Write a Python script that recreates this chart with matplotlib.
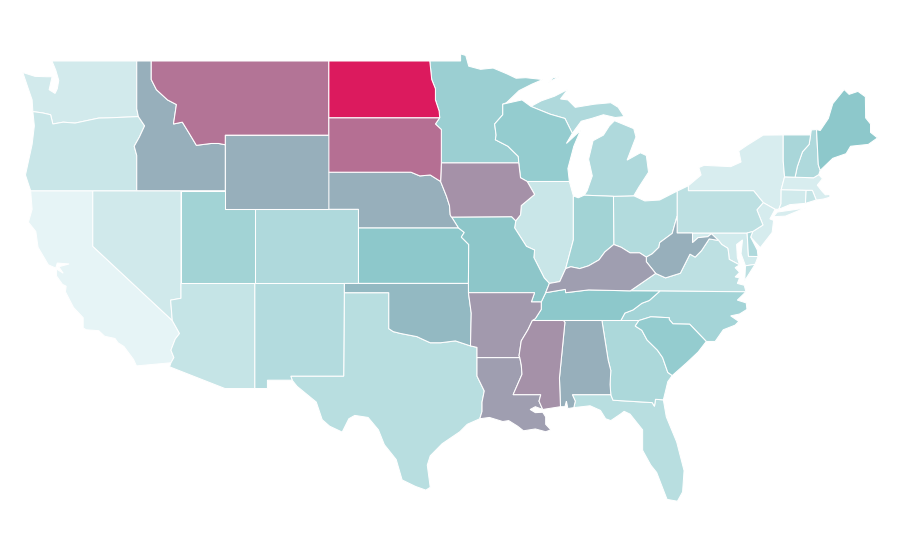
import matplotlib
matplotlib.use('Agg')
import matplotlib.pyplot as plt
from matplotlib.colors import LinearSegmentedColormap

# ---------------------------
# DATA
# ---------------------------
STATE_CODES = ['CA', 'NY', 'MA', 'NJ', 'WA', 'MD', 'CT', 'NV', 'OR', 'IL', 'RI', 'AZ', 'PA', 'VA', 'TX', 'FL',
               'NM', 'OH', 'CO', 'MI', 'NH', 'DE', 'GA', 'VT', 'NC', 'UT', 'IN', 'MN', 'WI', 'SC', 'KS', 'TN',
               'ME', 'MO', 'OK', 'AL', 'WY', 'ID', 'NE', 'WV', 'KY', 'LA', 'AR', 'IA', 'MS', 'MT', 'SD', 'ND']
STATE_VALUES = [0.3, 4.7, 4.7, 5.7, 7, 7.3, 7.3, 7.7, 10, 10, 11, 11.3, 14, 14, 15.3, 15.3,
                17, 17.3, 18.7, 18.7, 18.7, 18.7, 19.3, 20.7, 22, 23, 23, 25, 27.5, 27.7, 30, 30,
                30, 31, 36, 40, 40, 40, 40, 40, 47, 47, 49, 52, 52, 64, 66, 100]

# state outlines, (lon, lat)
OUTLINES = {
    'WA': [[(-122.76, 49), (-117.03, 49), (-117.03, 46.42), (-116.92, 46), (-119, 45.93), (-119.6, 45.92), (-121.2, 45.65),
            (-122, 45.7), (-122.7, 45.6), (-122.85, 46.1), (-123.4, 46.2), (-124.05, 46.27), (-124.1, 46.9), (-124.4, 47.6),
            (-124.73, 48.38), (-123.9, 48.17), (-123.1, 48.15), (-122.75, 48.15), (-122.95, 47.45), (-122.55, 47.25),
            (-122.4, 47.5), (-122.3, 47.95), (-122.5, 48.5), (-122.76, 49)]],
    'OR': [[(-124.2, 42), (-124.55, 42.85), (-124.1, 44.5), (-123.95, 45.5), (-124.05, 46.27), (-123.4, 46.2), (-122.85, 46.1),
            (-122.7, 45.6), (-122, 45.7), (-121.2, 45.65), (-119.6, 45.92), (-119, 45.93), (-116.92, 46), (-116.5, 45.5),
            (-116.85, 44.9), (-117.2, 44.4), (-117.03, 43.9), (-117.03, 42)]],
    'CA': [[(-124.2, 42), (-120, 42), (-120, 39), (-114.63, 35), (-114.14, 34.3), (-114.43, 34), (-114.72, 33.4),
            (-114.52, 33), (-114.72, 32.72), (-117.05, 32.55), (-117.25, 32.9), (-117.9, 33.6), (-118.3, 33.8), (-118.5, 34.03),
            (-119.2, 34.15), (-119.6, 34.45), (-120.45, 34.5), (-120.65, 34.6), (-120.65, 35.15), (-121.3, 35.7), (-121.85, 36.55),
            (-121.8, 36.85), (-122.05, 36.95), (-122.45, 37.4), (-122.45, 37.78), (-122, 37.55), (-122.3, 37.9), (-121.6, 38.05),
            (-122.4, 38.1), (-122.5, 37.83), (-123, 38), (-123.7, 38.95), (-123.85, 39.8), (-124.35, 40.3), (-124.1, 41), (-124.2, 42)]],
    'NV': [[(-120, 42), (-114.04, 42), (-114.04, 36.2), (-114.74, 36.1), (-114.63, 35), (-120, 39)]],
    'ID': [[(-117.03, 49), (-116.05, 49), (-116.05, 48), (-115.7, 47.45), (-114.95, 46.9), (-114.35, 46.65), (-114.55, 45.6),
            (-113.95, 45.7), (-113.45, 45.05), (-113, 44.45), (-112, 44.55), (-111.5, 44.55), (-111.05, 44.48), (-111.05, 42),
            (-117.03, 42), (-117.03, 43.9), (-117.2, 44.4), (-116.85, 44.9), (-116.5, 45.5), (-116.92, 46), (-117.03, 46.42)]],
    'MT': [[(-116.05, 49), (-104.05, 49), (-104.05, 45), (-111.05, 45), (-111.05, 44.48), (-111.5, 44.55), (-112, 44.55),
            (-113, 44.45), (-113.45, 45.05), (-113.95, 45.7), (-114.55, 45.6), (-114.35, 46.65), (-114.95, 46.9), (-115.7, 47.45),
            (-116.05, 48)]],
    'WY': [[(-111.05, 45), (-104.05, 45), (-104.05, 41), (-111.05, 41)]],
    'UT': [[(-114.04, 42), (-111.05, 42), (-111.05, 41), (-109.05, 41), (-109.05, 37), (-114.04, 37)]],
    'AZ': [[(-114.04, 37), (-109.05, 37), (-109.05, 31.33), (-111.07, 31.33), (-114.81, 32.5), (-114.72, 32.72), (-114.52, 33),
            (-114.72, 33.4), (-114.43, 34), (-114.14, 34.3), (-114.63, 35), (-114.74, 36.1), (-114.04, 36.2)]],
    'CO': [[(-109.05, 41), (-102.05, 41), (-102.05, 37), (-109.05, 37)]],
    'NM': [[(-109.05, 37), (-103, 37), (-103.05, 32), (-106.62, 32), (-106.53, 31.78), (-108.2, 31.78), (-108.2, 31.33), (-109.05, 31.33)]],
    'ND': [[(-104.05, 49), (-97.23, 49), (-97.1, 48), (-96.85, 47.5), (-96.85, 46.9), (-96.6, 46.3), (-96.56, 45.94), (-104.05, 45.94)]],
    'SD': [[(-104.05, 45.94), (-96.56, 45.94), (-96.85, 45.6), (-96.45, 45.3), (-96.45, 43.5), (-96.5, 42.5), (-97.2, 42.85),
            (-97.9, 42.8), (-98.5, 43), (-104.05, 43)]],
    'NE': [[(-104.05, 43), (-98.5, 43), (-97.9, 42.8), (-97.2, 42.85), (-96.5, 42.5), (-96.1, 41.7), (-95.9, 41.2), (-95.85, 40.7),
            (-95.3, 40), (-102.05, 40), (-102.05, 41), (-104.05, 41)]],
    'KS': [[(-102.05, 40), (-95.3, 40), (-94.9, 39.75), (-95.1, 39.5), (-94.6, 39.1), (-94.62, 37), (-102.05, 37)]],
    'OK': [[(-103, 37), (-94.62, 37), (-94.62, 36.5), (-94.43, 35.4), (-94.48, 33.63), (-95.5, 33.9), (-96.5, 33.8), (-97.2, 33.8),
            (-97.7, 33.98), (-98.1, 34.13), (-99.2, 34.3), (-99.7, 34.4), (-100, 34.56), (-100, 36.5), (-103, 36.5)]],
    'TX': [[(-103, 36.5), (-100, 36.5), (-100, 34.56), (-99.7, 34.4), (-99.2, 34.3), (-98.1, 34.13), (-97.7, 33.98), (-97.2, 33.8),
            (-96.5, 33.8), (-95.5, 33.9), (-94.48, 33.63), (-94.04, 33.55), (-94.04, 32), (-93.55, 31.2), (-93.7, 30.6), (-93.7, 30.1),
            (-93.85, 29.7), (-94.7, 29.4), (-95.2, 29), (-96.4, 28.35), (-97.2, 27.7), (-97.4, 27.2), (-97.2, 26), (-97.5, 25.85),
            (-98.2, 26.05), (-99.1, 26.4), (-99.5, 27.5), (-100.3, 28.3), (-100.7, 29.1), (-101.4, 29.77), (-102.3, 29.88), (-102.7, 29.7),
            (-103.15, 28.98), (-104, 29.3), (-104.5, 29.65), (-104.9, 30.6), (-106.2, 31.45), (-106.53, 31.78), (-106.62, 32), (-103.05, 32)]],
    'MN': [[(-97.23, 49), (-95.15, 49), (-95.15, 49.38), (-94.8, 49.3), (-94.6, 48.72), (-93.8, 48.55), (-92.95, 48.62), (-92, 48.3),
            (-91.4, 48.07), (-90.75, 48.1), (-89.6, 48), (-90.33, 47.75), (-91.2, 47.4), (-92.05, 46.75), (-92.3, 46.67), (-92.3, 46.1), (-92.85, 45.6),
            (-92.75, 45), (-92.8, 44.75), (-91.95, 44.4), (-91.25, 43.85), (-91.22, 43.5), (-96.45, 43.5), (-96.45, 45.3), (-96.85, 45.6),
            (-96.56, 45.94), (-96.6, 46.3), (-96.85, 46.9), (-96.85, 47.5), (-97.1, 48)]],
    'IA': [[(-96.45, 43.5), (-91.22, 43.5), (-91.1, 42.7), (-90.65, 42.5), (-90.15, 41.8), (-91.05, 41.2), (-91.1, 40.7), (-91.42, 40.38),
            (-91.7, 40.6), (-95.77, 40.58), (-95.85, 40.7), (-95.9, 41.2), (-96.1, 41.7), (-96.5, 42.5)]],
    'MO': [[(-95.77, 40.58), (-91.7, 40.6), (-91.42, 40.38), (-91.5, 40), (-90.7, 39), (-90.15, 38.8), (-90.2, 38.4), (-89.5, 37.3),
            (-89.15, 37), (-89.4, 36.5), (-89.7, 36), (-90.37, 36), (-90.15, 36.5), (-94.62, 36.5), (-94.62, 37), (-94.6, 39.1),
            (-95.1, 39.5), (-94.9, 39.75), (-95.3, 40), (-95.85, 40.7)]],
    'AR': [[(-94.62, 36.5), (-90.15, 36.5), (-90.37, 36), (-89.7, 36), (-89.7, 35.6), (-90.1, 35.1), (-90.3, 35), (-90.6, 34.5),
            (-91.05, 33.9), (-91.2, 33.1), (-91.15, 33), (-94.04, 33), (-94.04, 33.55), (-94.48, 33.63), (-94.43, 35.4)]],
    'LA': [[(-94.04, 33), (-91.15, 33), (-91.05, 32.6), (-91, 32.1), (-91.6, 31), (-89.73, 31), (-89.85, 30.65), (-89.6, 30.2),
            (-90.1, 30.35), (-90.45, 30.2), (-90.1, 30.03), (-89.6, 30.05), (-89.4, 29.8), (-89.4, 29.4), (-89.05, 29.1), (-89.4, 29),
            (-90.1, 29.15), (-90.9, 29.05), (-91.3, 29.3), (-91.9, 29.6), (-92.3, 29.55), (-93.2, 29.77), (-93.85, 29.7), (-93.7, 30.1),
            (-93.7, 30.6), (-93.55, 31.2), (-94.04, 32)]],
    'MS': [[(-90.3, 35), (-88.2, 35), (-88.1, 34.9), (-88.47, 31.9), (-88.4, 30.35), (-89.6, 30.2), (-89.85, 30.65), (-89.73, 31),
            (-91.6, 31), (-91, 32.1), (-91.05, 32.6), (-91.15, 33), (-91.2, 33.1), (-91.05, 33.9), (-90.6, 34.5)]],
    'AL': [[(-88.2, 35), (-85.6, 35), (-85.18, 32.87), (-85, 32.3), (-85.05, 31.55), (-85, 31), (-87.6, 31), (-87.4, 30.65), (-87.5, 30.3),
            (-87.9, 30.25), (-88, 30.65), (-88.1, 30.35), (-88.4, 30.35), (-88.47, 31.9), (-88.1, 34.9)]],
    'GA': [[(-85.6, 35), (-83.1, 35), (-83.35, 34.7), (-82.9, 34.47), (-82.55, 33.95), (-81.85, 33.4), (-81.5, 33), (-81.15, 32.2),
            (-80.85, 32.03), (-81.15, 31.7), (-81.3, 31.2), (-81.45, 30.72), (-81.98, 30.75), (-82.05, 30.37), (-82.2, 30.57), (-84.85, 30.7),
            (-85, 31), (-85.05, 31.55), (-85, 32.3), (-85.18, 32.87)]],
    'FL': [[(-87.6, 31), (-85, 31), (-84.85, 30.7), (-82.2, 30.57), (-82.05, 30.37), (-81.98, 30.75), (-81.45, 30.72), (-81.25, 29.8),
            (-80.55, 28.45), (-80.05, 26.9), (-80.15, 25.75), (-80.5, 25.25), (-81.2, 25.35), (-81.9, 26.8), (-82.3, 27.2), (-82.85, 28),
            (-82.85, 29.1), (-83.7, 29.95), (-84.1, 30.1), (-84.35, 29.95), (-85, 29.6), (-85.35, 29.7), (-85.7, 30.15),
            (-86.4, 30.4), (-87.5, 30.3), (-87.4, 30.65)]],
    'SC': [[(-83.1, 35), (-82.3, 35.2), (-81.05, 35.15), (-81.05, 35.05), (-80.8, 34.82), (-79.67, 34.8), (-78.55, 33.87), (-79.1, 33.3),
            (-79.9, 32.7), (-80.85, 32.03), (-81.15, 32.2), (-81.5, 33), (-81.85, 33.4), (-82.55, 33.95), (-82.9, 34.47), (-83.35, 34.7)]],
    'NC': [[(-81.68, 36.59), (-75.87, 36.55), (-76.45, 36.1), (-75.85, 35.95), (-75.8, 35.6), (-76.3, 35.35), (-76.9, 35.25), (-76.35, 34.95),
            (-76.6, 34.75), (-77.4, 34.5), (-77.95, 33.87), (-78.55, 33.87), (-79.67, 34.8),
            (-80.8, 34.82), (-81.05, 35.05), (-81.05, 35.15), (-82.3, 35.2), (-83.1, 35), (-84.32, 35), (-84.05, 35.4), (-83.5, 35.57),
            (-82.9, 35.93), (-82.4, 36.08)]],
    'TN': [[(-90.3, 35), (-88.2, 35), (-85.6, 35), (-84.32, 35), (-84.05, 35.4), (-83.5, 35.57), (-82.9, 35.93), (-82.4, 36.08), (-81.68, 36.59),
            (-83.68, 36.6), (-86.5, 36.65), (-88.05, 36.5), (-88.07, 36.68), (-89.4, 36.5), (-89.7, 36), (-89.7, 35.6), (-90.1, 35.1)]],
    'KY': [[(-89.4, 36.5), (-88.07, 36.68), (-88.05, 36.5), (-86.5, 36.65), (-83.68, 36.6), (-81.97, 37.54), (-82.6, 38.17), (-82.6, 38.42),
            (-83.05, 38.65), (-83.7, 38.65), (-84.3, 38.95), (-84.8, 39.1), (-85.4, 38.7), (-85.8, 38.27), (-86.5, 37.95), (-87.1, 37.8),
            (-87.7, 37.9), (-88.05, 37.8), (-88.45, 37.1), (-89.15, 37)]],
    'VA': [[(-83.68, 36.6), (-81.68, 36.59), (-75.87, 36.55), (-75.98, 36.9), (-76.45, 37), (-76.3, 37.3), (-76.6, 37.35), (-76.3, 37.6), (-76.6, 37.85),
            (-76.3, 38), (-77, 38.3), (-77.05, 38.7),
            (-77.1, 38.9), (-77.5, 39.1), (-77.72, 39.32), (-78.35, 39.4), (-78.87, 38.77), (-79.3, 38.42), (-79.65, 38.58), (-80.3, 37.55),
            (-81.3, 37.3), (-81.97, 37.54)],
           [(-75.9, 37.95), (-75.25, 38.03), (-75.95, 37.15)]],
    'WV': [[(-81.97, 37.54), (-81.3, 37.3), (-80.3, 37.55), (-79.65, 38.58), (-79.3, 38.42), (-78.87, 38.77), (-78.35, 39.4), (-77.72, 39.32),
            (-78.2, 39.68), (-78.45, 39.52), (-79.1, 39.47), (-79.48, 39.2), (-79.48, 39.72), (-80.52, 39.72), (-80.52, 40.64), (-80.85, 39.7),
            (-81.7, 39.2), (-81.75, 38.95), (-82.2, 38.6), (-82.6, 38.42), (-82.6, 38.17)]],
    'MD': [[(-79.48, 39.72), (-75.79, 39.72), (-75.7, 38.46), (-75.05, 38.45), (-75.25, 38.03), (-75.9, 37.95), (-76.2, 38.6), (-76.1, 39.35),
            (-76.5, 39.1), (-76.45, 38.4), (-76.3, 38), (-77, 38.3), (-77.05, 38.7), (-77.1, 38.9), (-77.5, 39.1), (-77.72, 39.32), (-78.2, 39.68),
            (-78.45, 39.52), (-79.1, 39.47), (-79.48, 39.2)]],
    'DE': [[(-75.79, 39.72), (-75.41, 39.8), (-75.55, 39.5), (-75.1, 38.8), (-75.05, 38.45), (-75.7, 38.46)]],
    'PA': [[(-80.52, 41.98), (-79.76, 42.27), (-79.76, 42), (-75.35, 42), (-74.7, 41.36), (-75.13, 40.97), (-74.72, 40.15), (-75.41, 39.8),
            (-75.79, 39.72), (-80.52, 39.72)]],
    'NJ': [[(-75.13, 40.97), (-74.7, 41.36), (-73.9, 41), (-74.25, 40.48), (-74, 40.4), (-74.1, 39.75), (-74.9, 38.93), (-75.55, 39.5),
            (-75.41, 39.8), (-74.72, 40.15)]],
    'NY': [[(-79.76, 42), (-75.35, 42), (-74.7, 41.36), (-73.9, 41), (-73.65, 41), (-73.5, 41.3), (-73.49, 42.05), (-73.26, 42.75), (-73.35, 43.6),
            (-73.35, 45.01), (-74.7, 45), (-75.8, 44.45), (-76.35, 44.15), (-76.2, 43.55), (-76.9, 43.3), (-78.7, 43.37), (-79.05, 43.25),
            (-78.9, 42.85), (-79.76, 42.27)],
           [(-74.02, 40.6), (-73.75, 40.85), (-72.6, 40.98), (-71.87, 41.07), (-73.2, 40.63)]],
    'CT': [[(-73.5, 41.3), (-73.49, 42.05), (-71.8, 42.02), (-71.85, 41.32), (-72.9, 41.25), (-73.65, 41)]],
    'RI': [[(-71.8, 42.02), (-71.38, 42.02), (-71.12, 41.5), (-71.85, 41.32)]],
    'MA': [[(-73.49, 42.05), (-73.26, 42.75), (-72.55, 42.73), (-71.3, 42.7), (-70.95, 42.87), (-70.7, 42.65), (-71.05, 42.3), (-70.7, 41.95),
            (-70.5, 41.78), (-70.2, 41.8), (-70.2, 41.65), (-70.65, 41.55), (-71.12, 41.5), (-71.38, 42.02), (-71.8, 42.02)]],
    'VT': [[(-73.35, 45.01), (-71.5, 45.01), (-71.6, 44.5), (-72.05, 44.1), (-72.4, 43.3), (-72.55, 42.73), (-73.26, 42.75), (-73.35, 43.6)]],
    'NH': [[(-71.5, 45.01), (-71.45, 45.28), (-71.1, 45.3), (-70.98, 43.4), (-70.85, 43.1), (-70.95, 42.87), (-71.3, 42.7), (-72.55, 42.73), (-72.4, 43.3),
            (-72.05, 44.1), (-71.6, 44.5)]],
    'ME': [[(-71.1, 45.3), (-70.85, 45.25), (-70.3, 45.9), (-70, 46.7), (-69.23, 47.46), (-68.9, 47.2), (-68.3, 47.36), (-67.8, 47.07),
            (-67.78, 45.93), (-67.45, 45.6), (-67.45, 45.15), (-66.98, 44.85), (-67.6, 44.5), (-68.8, 44.4), (-69.1, 44), (-70, 43.75),
            (-70.85, 43.1), (-70.98, 43.4)]],
    'OH': [[(-84.82, 41.7), (-83.45, 41.73), (-82.7, 41.45), (-81.7, 41.5), (-80.52, 41.98), (-80.52, 40.64), (-80.85, 39.7), (-81.7, 39.2),
            (-81.75, 38.95), (-82.2, 38.6), (-82.6, 38.42), (-83.05, 38.65), (-83.7, 38.65), (-84.3, 38.95), (-84.8, 39.1)]],
    'IN': [[(-87.53, 41.72), (-87.2, 41.62), (-86.8, 41.76), (-84.82, 41.7), (-84.8, 39.1), (-85.4, 38.7), (-85.8, 38.27), (-86.5, 37.95),
            (-87.1, 37.8), (-87.7, 37.9), (-88.05, 37.8), (-87.53, 39.35)]],
    'IL': [[(-90.65, 42.5), (-87.8, 42.5), (-87.53, 41.72), (-87.53, 39.35), (-88.05, 37.8), (-88.45, 37.1), (-89.15, 37), (-89.5, 37.3),
            (-90.2, 38.4), (-90.15, 38.8), (-90.7, 39), (-91.5, 40), (-91.42, 40.38), (-91.1, 40.7), (-91.05, 41.2), (-90.15, 41.8)]],
    'WI': [[(-92.3, 46.67), (-91, 46.9), (-90.4, 46.55), (-89.1, 46.13), (-88.1, 45.9), (-87.6, 45.1), (-88, 44.55), (-87.05, 45.25), (-87.5, 44.4),
            (-87.9, 43.2), (-87.8, 42.5), (-90.65, 42.5), (-91.1, 42.7), (-91.22, 43.5), (-91.25, 43.85), (-91.95, 44.4), (-92.8, 44.75), (-92.75, 45),
            (-92.85, 45.6), (-92.3, 46.1)]],
    'MI': [[(-86.8, 41.76), (-84.82, 41.7), (-83.45, 41.73), (-83.1, 42.2), (-82.45, 43), (-82.6, 43.9), (-83, 44.05), (-83.9, 43.65), (-83.3, 44.9),
            (-83.45, 45.35), (-84.75, 45.78), (-85.1, 45.5), (-85.5, 45), (-86.2, 44.7), (-86.5, 43.7), (-86.25, 42.8), (-86.6, 42)],
           [(-90.4, 46.55), (-89.1, 46.13), (-88.1, 45.9), (-87.6, 45.1), (-87, 45.75), (-86.3, 45.9), (-85.5, 46.1), (-84.7, 45.95), (-84.1, 46),
            (-84.5, 46.5), (-85, 46.75), (-86.1, 46.67), (-87.4, 46.5), (-87.9, 46.9), (-88.4, 46.95), (-87.9, 47.47), (-88.8, 47.1), (-89.7, 46.85)],
           [(-89.2, 47.85), (-88.5, 48.15), (-88.9, 48.1)]],
}

# ---------------------------
# CHOROPLETH
# ---------------------------
cmap = LinearSegmentedColormap.from_list('map_scale', [(0, '#e6f4f6'), (0.3, '#8cc8cb'), (1, '#dc1a5e')])

fig = plt.figure(figsize=(9, 5.6), dpi=100)
ax = fig.add_axes([0, 0, 1, 1])

for code, value in zip(STATE_CODES, STATE_VALUES):
    for part in OUTLINES[code]:
        lons, lats = zip(*part)
        ax.fill(lons, lats, facecolor=cmap(value / 100), edgecolor='white', linewidth=0.75)

# plate carree, stretched like the original
ax.set_xlim(-126.27, -65.46)
ax.set_ylim(22.08, 52.29)
ax.axis('off')

plt.savefig('out.png', dpi=100, facecolor='white')
plt.close()
